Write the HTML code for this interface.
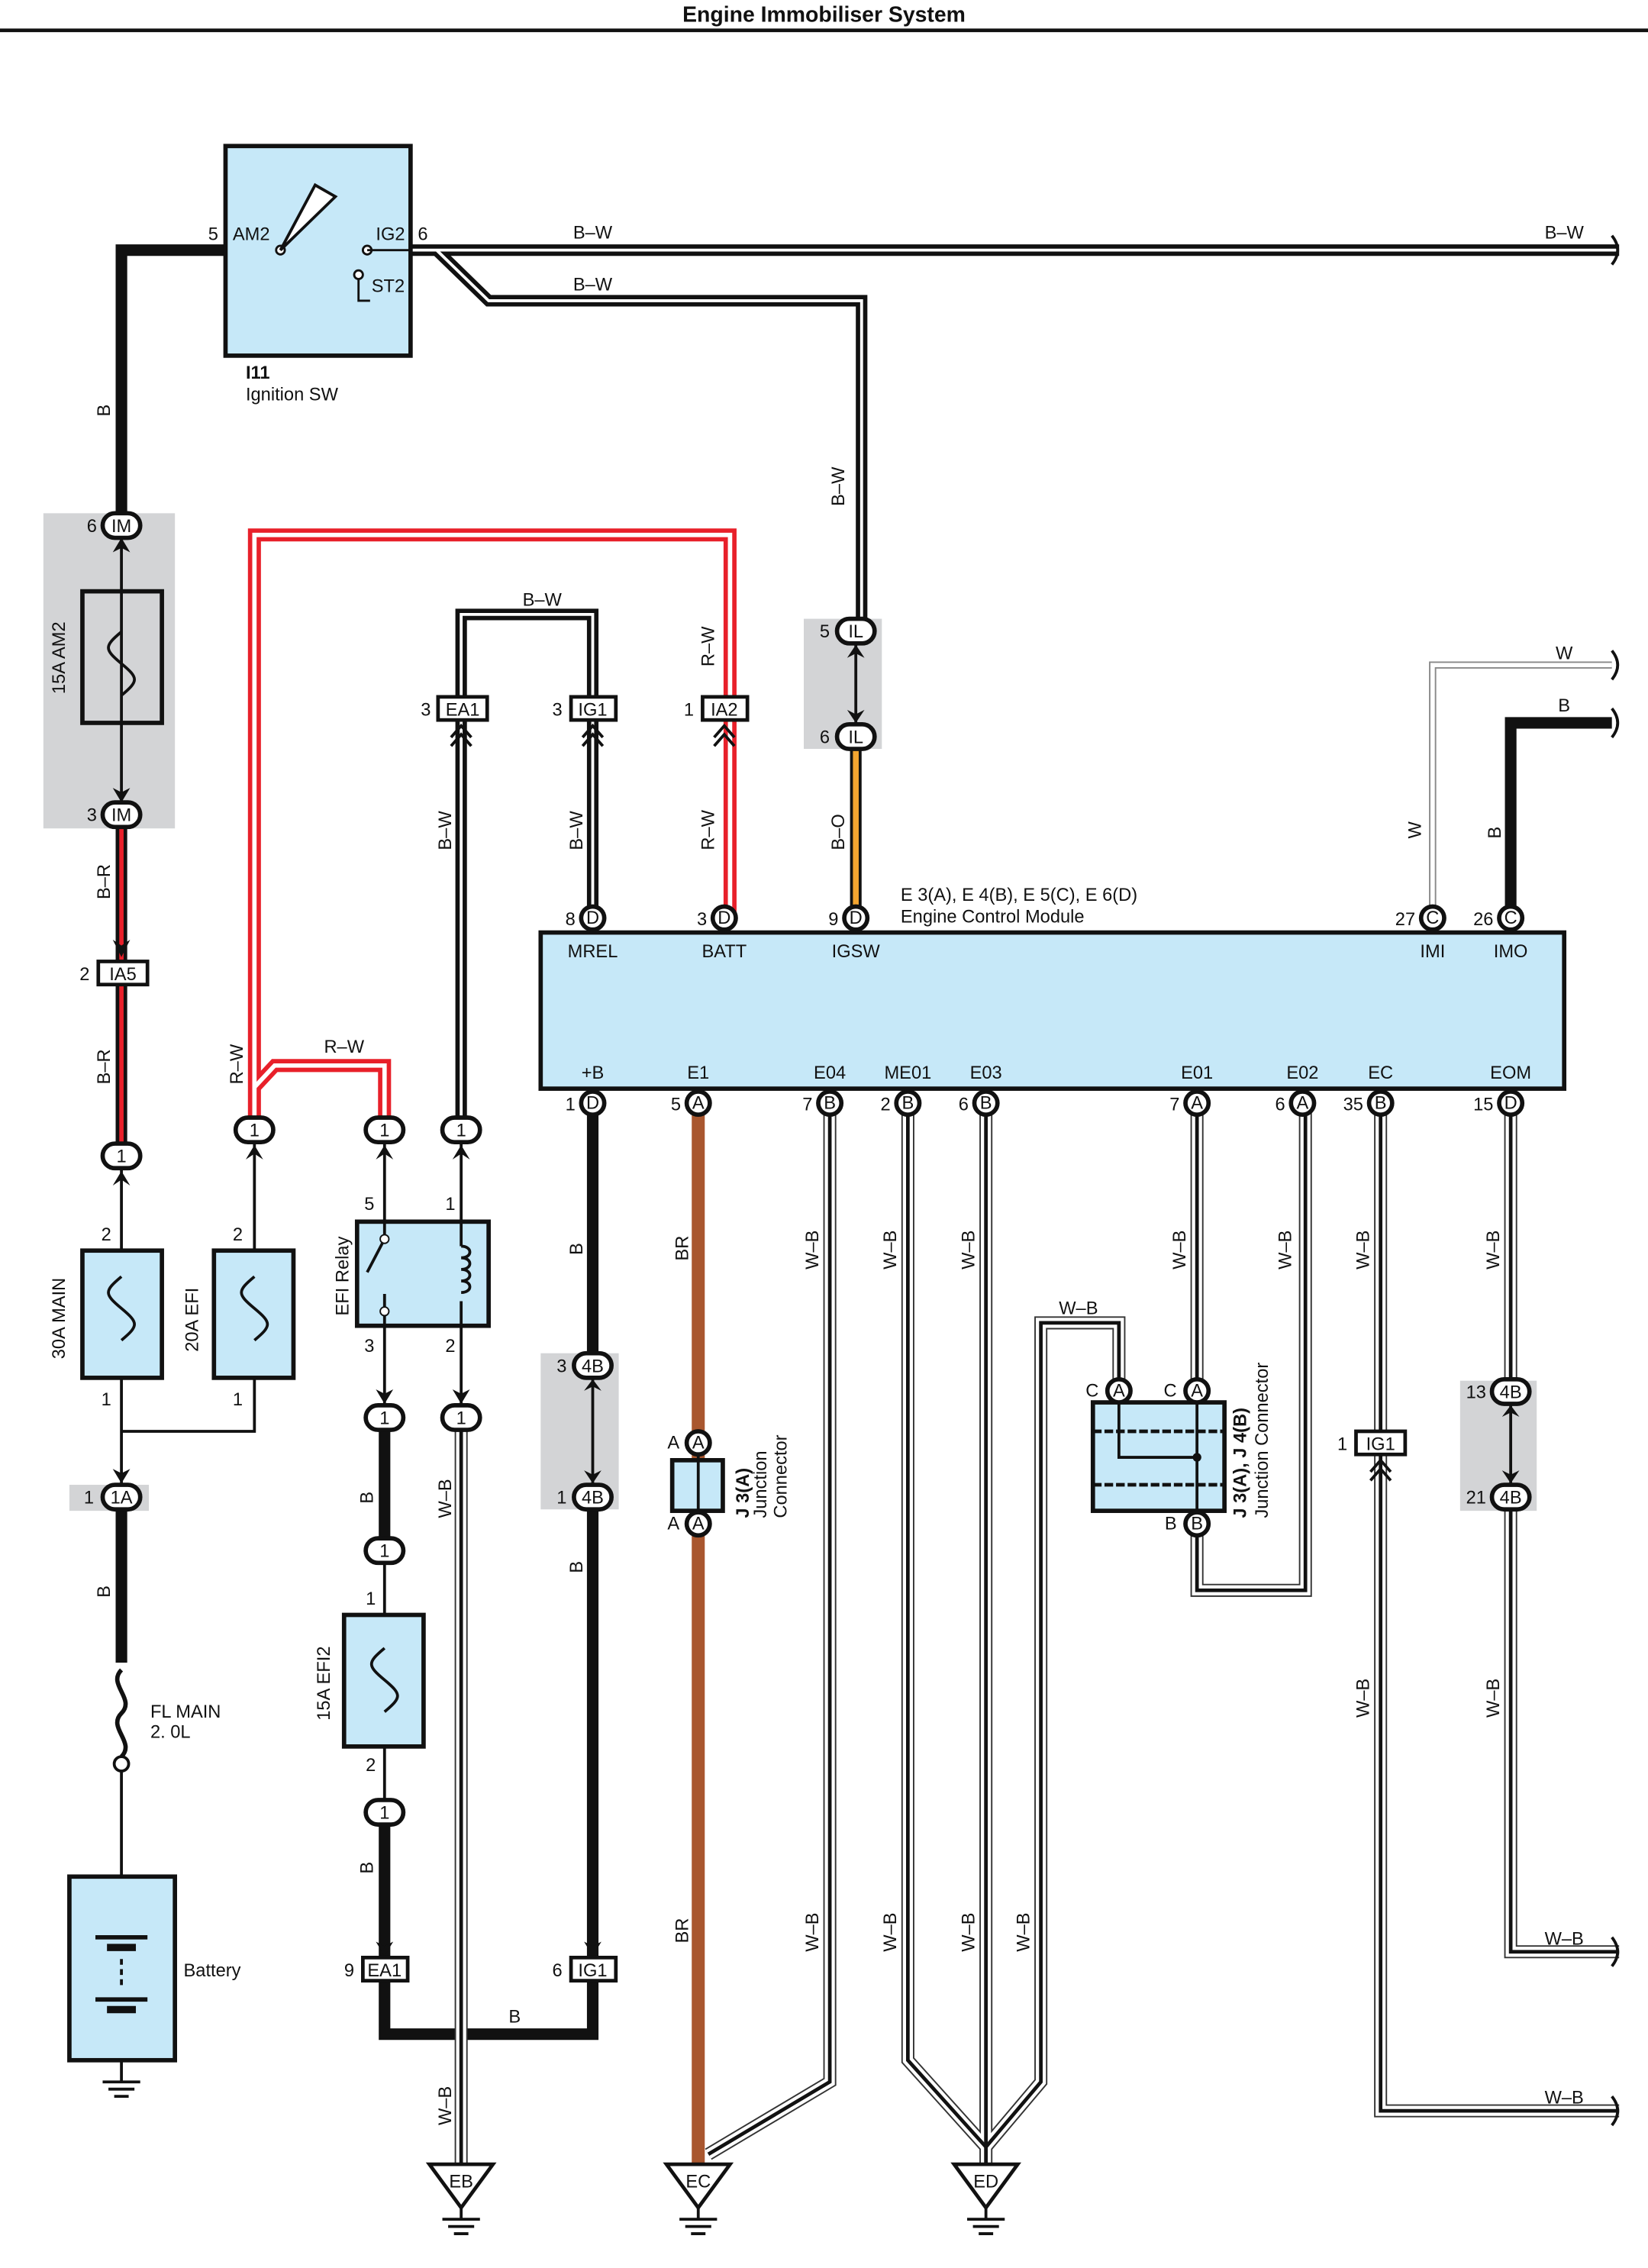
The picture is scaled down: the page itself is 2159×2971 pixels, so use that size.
<!DOCTYPE html>
<html><head><meta charset="utf-8"><style>
html,body{margin:0;padding:0;background:#fff}
svg{display:block}
text{font-family:"Liberation Sans",sans-serif;font-size:12.5px;fill:#111}
.n{fill:none}
.k{stroke:#111;fill:none}
</style></head><body>
<svg width="2159" height="2971" viewBox="0 0 2159 2971" xmlns="http://www.w3.org/2000/svg">
<defs>
<g id="gnd"><polygon points="-22,0 22,0 0,30" fill="#fff" stroke="#111" stroke-width="2.5"/><line x1="0" y1="30" x2="0" y2="38" stroke="#111" stroke-width="2"/><line x1="-13" y1="38" x2="13" y2="38" stroke="#111" stroke-width="2"/><line x1="-9" y1="43" x2="9" y2="43" stroke="#111" stroke-width="2"/><line x1="-5" y1="48" x2="5" y2="48" stroke="#111" stroke-width="2"/></g>
</defs>
<g transform="scale(1.8939)">
<text x="570" y="15" text-anchor="middle" style="font-weight:bold;font-size:15px">Engine Immobiliser System</text>
<line x1="0" y1="21" x2="1140" y2="21" stroke="#111" stroke-width="2.5"/>

<!-- gray blocks -->
<rect x="30" y="355" width="91" height="218" fill="#d3d4d6"/>
<rect x="48" y="1027" width="55" height="18" fill="#d3d4d6"/>
<rect x="556" y="428" width="54" height="90" fill="#d3d4d6"/>
<rect x="374" y="936" width="54" height="108" fill="#d3d4d6"/>
<rect x="1010" y="955" width="53" height="90" fill="#d3d4d6"/>

<!-- B-W wires (black w/ white center) -->
<g fill="none">
<path id="bw1" d="M284,173 H1120"/>
<path id="bw2" d="M302,173 L338,208 H596 V436"/>
<path id="bw3" d="M319,781 V490 M319,490 V425 H410 V490 M410,490 V635"/>
</g>
<g fill="none" stroke="#111" stroke-width="8"><use href="#bw1"/><use href="#bw2"/><use href="#bw3"/></g>
<g fill="none" stroke="#fff" stroke-width="2"><use href="#bw1"/><use href="#bw2"/><use href="#bw3"/></g>

<!-- thick black B -->
<g fill="none" stroke="#111" stroke-width="8">
<path d="M156,173 H84 V363"/>
<path d="M84,1044 V1150"/>
<path d="M266,980 V1072 M266,1253 V1362 M266,1362 V1407 H410 V1362"/>
<path d="M410,763 V944 M410,1035 V1362"/>
<path d="M1045,635 V500 H1115"/>
</g>

<!-- red wires R-W -->
<g fill="none"><path id="rw1" d="M176,781 V370 H505 V635"/><path id="rw2" d="M176,752 L190,737 H266 V781"/></g>
<g stroke="#e8202a" stroke-width="9" fill="none"><use href="#rw1"/><use href="#rw2"/></g>
<g stroke="#fff" stroke-width="3" fill="none"><use href="#rw1"/><use href="#rw2"/></g>
<!-- B-R -->
<g fill="none"><path id="br1" d="M84,563 V799"/></g>
<g stroke="#111" stroke-width="8" fill="none"><use href="#br1"/></g>
<g stroke="#e8202a" stroke-width="3" fill="none"><use href="#br1"/></g>
<!-- B-O -->
<path d="M592,509 V635" stroke="#111" stroke-width="8" fill="none"/>
<path d="M592,509 V635" stroke="#f3a530" stroke-width="4" fill="none"/>
<!-- W -->
<path d="M991,635 V460 H1115" stroke="#888" stroke-width="5" fill="none"/>
<path d="M991,635 V460 H1115" stroke="#fff" stroke-width="3" fill="none"/>
<!-- BR -->
<path d="M483,763 V1500" stroke="#a9572f" stroke-width="9" fill="none"/>

<!-- W-B wires -->
<g fill="none">
<path id="wb1" d="M319,980 V1500"/>
<path id="wb2" d="M574,763 V1440 L490,1490"/>
<path id="wb3" d="M628,763 V1425 L682,1485"/>
<path id="wb4" d="M682,763 V1500"/>
<path id="wb5" d="M774,962 V915 H720 V1440 L682,1485"/>
<path id="wb6" d="M828,763 V962 M828,1054 V1100 H903 V763"/>
<path id="wb7" d="M955,763 V1460 H1120"/>
<path id="wb8" d="M1045,763 V962 M1045,1035 V1350 H1120"/>
</g>
<g stroke="#333" stroke-width="9" fill="none"><use href="#wb1"/><use href="#wb2"/><use href="#wb3"/><use href="#wb4"/><use href="#wb5"/><use href="#wb6"/><use href="#wb7"/><use href="#wb8"/></g>
<g stroke="#fff" stroke-width="7" fill="none"><use href="#wb1"/><use href="#wb2"/><use href="#wb3"/><use href="#wb4"/><use href="#wb5"/><use href="#wb6"/><use href="#wb7"/><use href="#wb8"/></g>
<g stroke="#111" stroke-width="2.5" fill="none"><use href="#wb1"/><use href="#wb2"/><use href="#wb3"/><use href="#wb4"/><use href="#wb5"/><use href="#wb6"/><use href="#wb7"/><use href="#wb8"/></g>

<!-- thin black lines -->
<g stroke="#111" stroke-width="2" fill="none">
<path d="M84,363 V563"/>
<path d="M84,799 V1035"/>
<path d="M84,990 H176 V781"/>
<path d="M266,781 V980 M319,781 V980"/>
<path d="M266,1072 V1253"/>
<path d="M84,1220 V1440"/>
<path d="M592,436 V509"/>
<path d="M410,944 V1035"/>
<path d="M1045,962 V1035"/>
<path d="M483,998 V1054"/>
</g>

<!-- right squiggles -->
<g stroke="#111" stroke-width="2" fill="none">
<path d="M1115,163 q8,10 0,20"/><path d="M1115,450 q8,10 0,20"/><path d="M1115,490 q8,10 0,20"/>
<path d="M1115,1340 q8,10 0,20"/><path d="M1115,1450 q8,10 0,20"/>
</g>

<!-- Ignition SW -->
<rect x="156" y="101" width="128" height="145" fill="#c6e8f8" stroke="#111" stroke-width="3"/>
<circle cx="194" cy="173" r="3" fill="#fff" stroke="#111" stroke-width="1.5"/>
<circle cx="254" cy="173" r="3" fill="#fff" stroke="#111" stroke-width="1.5"/>
<circle cx="248" cy="190" r="3" fill="#fff" stroke="#111" stroke-width="1.5"/>
<path d="M194,173 L218,128 L232,136 Z" fill="#fff" stroke="#111" stroke-width="2"/>
<path d="M254,173 H284 M248,193 V208 H256" stroke="#111" stroke-width="1.5" fill="none"/>
<text x="161" y="166">AM2</text><text x="260" y="166">IG2</text><text x="257" y="202">ST2</text>
<text x="144" y="166">5</text><text x="289" y="166">6</text>
<text x="170" y="262" style="font-weight:bold">I11</text><text x="170" y="277">Ignition SW</text>

<!-- fuses -->
<g stroke="#111" stroke-width="3" fill="none">
<rect x="57" y="409" width="55" height="91"/>
<rect x="57" y="865" width="55" height="88" fill="#c6e8f8"/>
<rect x="148" y="865" width="55" height="88" fill="#c6e8f8"/>
<rect x="238" y="1117" width="55" height="91" fill="#c6e8f8"/>
<path d="M84,437 c-12,10 -12,12 0,22 c12,10 12,12 0,22" stroke-width="2"/>
<path d="M84,883 c-12,10 -12,12 0,22 c12,10 12,12 0,22" stroke-width="2"/>
<path d="M176,883 c-12,10 -12,12 0,22 c12,10 12,12 0,22" stroke-width="2"/>
<path d="M266,1140 c-12,10 -12,12 0,22 c12,10 12,12 0,22" stroke-width="2"/>
<path d="M84,1155 c-10,10 10,20 0,30 c-10,10 10,20 0,30" stroke-width="3"/>
</g>
<circle cx="84" cy="1220" r="5" fill="#fff" stroke="#111" stroke-width="2"/>
<text transform="translate(45,480) rotate(-90)">15A AM2</text>
<text transform="translate(45,940) rotate(-90)">30A MAIN</text>
<text transform="translate(137,935) rotate(-90)">20A EFI</text>
<text transform="translate(228,1190) rotate(-90)">15A EFI2</text>
<text x="104" y="1188">FL MAIN</text><text x="104" y="1202">2. 0L</text>
<text x="70" y="858">2</text><text x="161" y="858">2</text><text x="70" y="972">1</text><text x="161" y="972">1</text>
<text x="253" y="1110">1</text><text x="253" y="1225">2</text>

<!-- Battery -->
<rect x="48" y="1298" width="73" height="127" fill="#c6e8f8" stroke="#111" stroke-width="3"/>
<g stroke="#111" stroke-width="3"><line x1="66" y1="1340" x2="102" y2="1340"/><line x1="74" y1="1347" x2="94" y2="1347" stroke-width="5"/><line x1="66" y1="1383" x2="102" y2="1383"/><line x1="74" y1="1390" x2="94" y2="1390" stroke-width="5"/><line x1="84" y1="1355" x2="84" y2="1375" stroke-dasharray="4,3" stroke-width="2"/></g>
<text x="127" y="1367">Battery</text>
<g transform="translate(84,1440)"><line x1="-13" y1="0" x2="13" y2="0" stroke="#111" stroke-width="2"/><line x1="-9" y1="5" x2="9" y2="5" stroke="#111" stroke-width="2"/><line x1="-5" y1="10" x2="5" y2="10" stroke="#111" stroke-width="2"/></g>

<!-- EFI relay -->
<rect x="247" y="845" width="91" height="72" fill="#c6e8f8" stroke="#111" stroke-width="3"/>
<path d="M266,845 V857 L254,880 M266,895 V917 M319,845 V862 M319,900 V917" stroke="#111" stroke-width="2" fill="none"/>
<circle cx="266" cy="857" r="3" fill="#fff" stroke="#111"/><circle cx="266" cy="907" r="3" fill="#fff" stroke="#111"/>
<path d="M319,862 c8,0 8,8 0,8 c8,0 8,8 0,8 c8,0 8,8 0,8 c8,0 8,8 0,8" stroke="#111" stroke-width="2" fill="none"/>
<text transform="translate(241,910) rotate(-90)">EFI Relay</text>
<text x="252" y="837">5</text><text x="308" y="837">1</text><text x="252" y="935">3</text><text x="308" y="935">2</text>

<!-- ECM -->
<rect x="374" y="645" width="708" height="108" fill="#c6e8f8" stroke="#111" stroke-width="3"/>
<text x="623" y="623">E 3(A), E 4(B), E 5(C), E 6(D)</text><text x="623" y="638">Engine Control Module</text>
<g text-anchor="middle">
<text x="410" y="662">MREL</text><text x="501" y="662">BATT</text><text x="592" y="662">IGSW</text><text x="991" y="662">IMI</text><text x="1045" y="662">IMO</text>
<text x="410" y="746">+B</text><text x="483" y="746">E1</text><text x="574" y="746">E04</text><text x="628" y="746">ME01</text><text x="682" y="746">E03</text><text x="828" y="746">E01</text><text x="901" y="746">E02</text><text x="955" y="746">EC</text><text x="1045" y="746">EOM</text>
</g>

<!-- J3 / J4 -->
<rect x="465" y="1010" width="35" height="35" fill="#c6e8f8" stroke="#111" stroke-width="3"/>
<line x1="483" y1="1010" x2="483" y2="1045" stroke="#111" stroke-width="2"/>
<text transform="translate(518,1050) rotate(-90)" style="font-weight:bold">J 3(A)</text>
<text transform="translate(530,1050) rotate(-90)">Junction</text><text transform="translate(544,1050) rotate(-90)">Connector</text>
<rect x="756" y="970" width="91" height="75" fill="#c6e8f8" stroke="#111" stroke-width="3"/>
<path d="M756,990 H847 M756,1027 H847" stroke="#111" stroke-width="2.5" stroke-dasharray="6,2" fill="none"/>
<path d="M774,970 V1008 H828 M828,970 V1054" stroke="#111" stroke-width="2" fill="none"/>
<circle cx="828" cy="1008" r="3" fill="#111"/>
<text transform="translate(862,1050) rotate(-90)" style="font-weight:bold">J 3(A), J 4(B)</text>
<text transform="translate(877,1050) rotate(-90)">Junction Connector</text>

<!-- round pins -->
<g fill="#fff" stroke="#111" stroke-width="3">
<rect x="71" y="355" width="26" height="17" rx="8.5"/><rect x="71" y="555" width="26" height="17" rx="8.5"/>
<rect x="71" y="791" width="26" height="17" rx="8.5"/><rect x="163" y="773" width="26" height="17" rx="8.5"/>
<rect x="253" y="773" width="26" height="17" rx="8.5"/><rect x="306" y="773" width="26" height="17" rx="8.5"/>
<rect x="253" y="972" width="26" height="17" rx="8.5"/><rect x="306" y="972" width="26" height="17" rx="8.5"/>
<rect x="253" y="1064" width="26" height="17" rx="8.5"/><rect x="253" y="1245" width="26" height="17" rx="8.5"/>
<rect x="71" y="1027" width="26" height="17" rx="8.5"/>
<rect x="579" y="428" width="26" height="17" rx="8.5"/><rect x="579" y="501" width="26" height="17" rx="8.5"/>
<rect x="397" y="936" width="26" height="17" rx="8.5"/><rect x="397" y="1027" width="26" height="17" rx="8.5"/>
<rect x="1032" y="954" width="26" height="17" rx="8.5"/><rect x="1032" y="1027" width="26" height="17" rx="8.5"/>
<circle cx="410" cy="635" r="8"/><circle cx="501" cy="635" r="8"/><circle cx="592" cy="635" r="8"/><circle cx="991" cy="635" r="8"/><circle cx="1045" cy="635" r="8"/>
<circle cx="410" cy="763" r="8"/><circle cx="483" cy="763" r="8"/><circle cx="574" cy="763" r="8"/><circle cx="628" cy="763" r="8"/><circle cx="682" cy="763" r="8"/><circle cx="828" cy="763" r="8"/><circle cx="901" cy="763" r="8"/><circle cx="955" cy="763" r="8"/><circle cx="1045" cy="763" r="8"/>
<circle cx="483" cy="998" r="8"/><circle cx="483" cy="1054" r="8"/><circle cx="774" cy="962" r="8"/><circle cx="828" cy="962" r="8"/><circle cx="828" cy="1054" r="8"/>
</g>
<g text-anchor="middle" style="font-size:11.5px">
<text x="84" y="368">IM</text><text x="84" y="568">IM</text><text x="84" y="804">1</text><text x="176" y="786">1</text><text x="266" y="786">1</text><text x="319" y="786">1</text>
<text x="266" y="985">1</text><text x="319" y="985">1</text><text x="266" y="1077">1</text><text x="266" y="1258">1</text><text x="84" y="1040">1A</text>
<text x="592" y="441">IL</text><text x="592" y="514">IL</text><text x="410" y="949">4B</text><text x="410" y="1040">4B</text><text x="1045" y="967">4B</text><text x="1045" y="1040">4B</text>
<text x="410" y="639">D</text><text x="501" y="639">D</text><text x="592" y="639">D</text><text x="991" y="639">C</text><text x="1045" y="639">C</text>
<text x="410" y="767">D</text><text x="483" y="767">A</text><text x="574" y="767">B</text><text x="628" y="767">B</text><text x="682" y="767">B</text><text x="828" y="767">A</text><text x="901" y="767">A</text><text x="955" y="767">B</text><text x="1045" y="767">D</text>
<text x="483" y="1002">A</text><text x="483" y="1058">A</text><text x="774" y="966">A</text><text x="828" y="966">A</text><text x="828" y="1058">B</text>
</g>
<!-- rect connectors -->
<g fill="#fff" stroke="#111" stroke-width="2.5">
<rect x="68" y="665" width="34" height="16"/><rect x="303" y="482" width="34" height="16"/><rect x="395" y="482" width="31" height="16"/><rect x="486" y="482" width="31" height="16"/>
<rect x="251" y="1354" width="31" height="16"/><rect x="395" y="1354" width="31" height="16"/><rect x="938" y="990" width="34" height="16"/>
</g>
<g text-anchor="middle" style="font-size:11.5px">
<text x="85" y="678">IA5</text><text x="320" y="495">EA1</text><text x="410" y="495">IG1</text><text x="501" y="495">IA2</text><text x="266" y="1367">EA1</text><text x="410" y="1367">IG1</text><text x="955" y="1003">IG1</text>
</g>
<!-- pin numbers -->
<g text-anchor="end">
<text x="67" y="368">6</text><text x="67" y="568">3</text><text x="62" y="678">2</text><text x="298" y="495">3</text><text x="389" y="495">3</text><text x="480" y="495">1</text>
<text x="574" y="441">5</text><text x="574" y="514">6</text><text x="398" y="640">8</text><text x="489" y="640">3</text><text x="580" y="640">9</text><text x="979" y="640">27</text><text x="1033" y="640">26</text>
<text x="398" y="768">1</text><text x="471" y="768">5</text><text x="562" y="768">7</text><text x="616" y="768">2</text><text x="670" y="768">6</text><text x="816" y="768">7</text><text x="889" y="768">6</text><text x="943" y="768">35</text><text x="1033" y="768">15</text>
<text x="392" y="949">3</text><text x="392" y="1040">1</text><text x="1028" y="967">13</text><text x="1028" y="1040">21</text><text x="65" y="1040">1</text>
<text x="470" y="1002">A</text><text x="470" y="1058">A</text><text x="760" y="966">C</text><text x="814" y="966">C</text><text x="814" y="1058">B</text>
<text x="932" y="1003">1</text><text x="245" y="1367">9</text><text x="389" y="1367">6</text>
</g>
<!-- grounds -->
<use href="#gnd" transform="translate(319,1497)"/><use href="#gnd" transform="translate(483,1497)"/><use href="#gnd" transform="translate(682,1497)"/>
<g text-anchor="middle"><text x="319" y="1513">EB</text><text x="483" y="1513">EC</text><text x="682" y="1513">ED</text></g>

<!-- wire labels -->
<text x="410" y="165" text-anchor="middle">B–W</text><text x="410" y="201" text-anchor="middle">B–W</text><text x="1082" y="165" text-anchor="middle">B–W</text>
<text x="375" y="419" text-anchor="middle">B–W</text><text x="238" y="728" text-anchor="middle">R–W</text><text x="356" y="1399" text-anchor="middle">B</text>
<text x="1082" y="456" text-anchor="middle">W</text><text x="1082" y="492" text-anchor="middle">B</text><text x="746" y="909" text-anchor="middle">W–B</text>
<text x="1082" y="1345" text-anchor="middle">W–B</text><text x="1082" y="1455" text-anchor="middle">W–B</text>
<g>
<text transform="translate(76,288) rotate(-90)">B</text><text transform="translate(76,622) rotate(-90)">B–R</text><text transform="translate(76,750) rotate(-90)">B–R</text>
<text transform="translate(168,750) rotate(-90)">R–W</text><text transform="translate(312,588) rotate(-90)">B–W</text><text transform="translate(403,588) rotate(-90)">B–W</text>
<text transform="translate(494,461) rotate(-90)">R–W</text><text transform="translate(494,588) rotate(-90)">R–W</text><text transform="translate(584,350) rotate(-90)">B–W</text><text transform="translate(584,588) rotate(-90)">B–O</text>
<text transform="translate(983,580) rotate(-90)">W</text><text transform="translate(1038,580) rotate(-90)">B</text>
<text transform="translate(76,1105) rotate(-90)">B</text><text transform="translate(258,1040) rotate(-90)">B</text><text transform="translate(258,1296) rotate(-90)">B</text>
<text transform="translate(312,1050) rotate(-90)">W–B</text><text transform="translate(312,1470) rotate(-90)">W–B</text>
<text transform="translate(403,868) rotate(-90)">B</text><text transform="translate(403,1088) rotate(-90)">B</text>
<text transform="translate(476,872) rotate(-90)">BR</text><text transform="translate(476,1344) rotate(-90)">BR</text>
<text transform="translate(566,878) rotate(-90)">W–B</text><text transform="translate(566,1350) rotate(-90)">W–B</text>
<text transform="translate(620,878) rotate(-90)">W–B</text><text transform="translate(620,1350) rotate(-90)">W–B</text>
<text transform="translate(674,878) rotate(-90)">W–B</text><text transform="translate(674,1350) rotate(-90)">W–B</text>
<text transform="translate(712,1350) rotate(-90)">W–B</text>
<text transform="translate(820,878) rotate(-90)">W–B</text><text transform="translate(893,878) rotate(-90)">W–B</text>
<text transform="translate(947,878) rotate(-90)">W–B</text><text transform="translate(947,1188) rotate(-90)">W–B</text>
<text transform="translate(1037,878) rotate(-90)">W–B</text><text transform="translate(1037,1188) rotate(-90)">W–B</text>
</g>
<!-- arrows -->
<g fill="#111">
<path d="M78,382 L84,372 L90,382 L84,379Z"/><path d="M78,545 L84,555 L90,545 L84,548Z"/>
<path d="M78,650 L84,662 L90,650 L84,654Z"/><path d="M78,820 L84,810 L90,820 L84,816Z"/>
<path d="M170,802 L176,792 L182,802 L176,798Z"/><path d="M260,802 L266,792 L272,802 L266,798Z"/><path d="M313,802 L319,792 L325,802 L319,798Z"/>
<path d="M260,961 L266,971 L272,961 L266,964Z"/><path d="M313,961 L319,971 L325,961 L319,964Z"/>
<path d="M260,1343 L266,1353 L272,1343 L266,1346Z"/><path d="M404,1343 L410,1353 L416,1343 L410,1346Z"/>
<path d="M78,1016 L84,1026 L90,1016 L84,1019Z"/>
<path d="M586,455 L592,446 L598,455 L592,452Z"/><path d="M586,491 L592,500 L598,491 L592,494Z"/>
<path d="M404,962 L410,954 L416,962 L410,959Z"/><path d="M404,1017 L410,1026 L416,1017 L410,1020Z"/>
<path d="M1039,980 L1045,972 L1051,980 L1045,977Z"/><path d="M1039,1017 L1045,1026 L1051,1017 L1045,1020Z"/>
</g>
<g stroke="#111" stroke-width="2" fill="none">
<path d="M312,510 L319,502 L326,510 M312,516 L319,508 L326,516"/>
<path d="M403,510 L410,502 L417,510 M403,516 L410,508 L417,516"/>
<path d="M494,510 L501,502 L508,510 M494,516 L501,508 L508,516"/>
<path d="M948,1018 L955,1010 L962,1018 M948,1024 L955,1016 L962,1024"/>
</g>
</g>
</svg>
</body></html>
